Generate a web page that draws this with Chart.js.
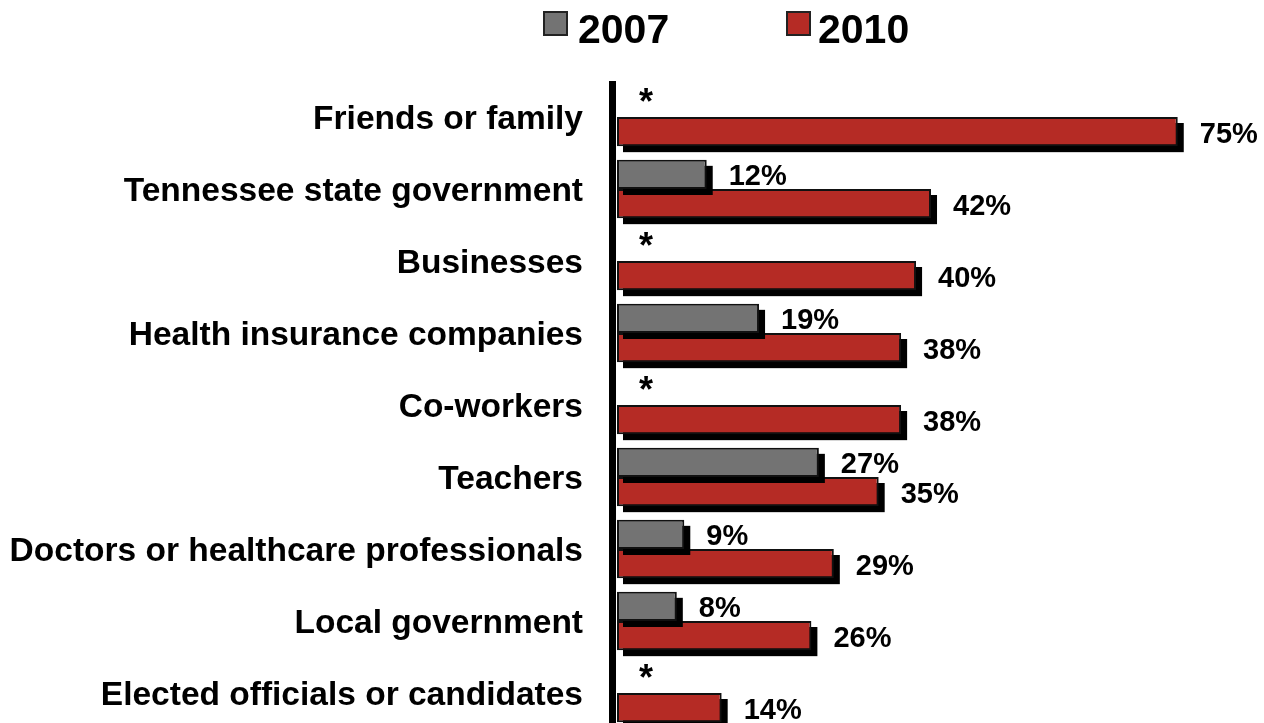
<!DOCTYPE html>
<html>
<head>
<meta charset="utf-8">
<script src="https://cdn.jsdelivr.net/npm/chart.js@4/dist/chart.umd.min.js"></script>
<style>
html,body{margin:0;padding:0;background:#fff;overflow:hidden;}
canvas{display:block;}
</style>
</head>
<body>
<canvas id="c" width="1264" height="740" style="width:1264px;height:740px"></canvas>
<script>
const categories = [
  "Friends or family",
  "Tennessee state government",
  "Businesses",
  "Health insurance companies",
  "Co-workers",
  "Teachers",
  "Doctors or healthcare professionals",
  "Local government",
  "Elected officials or candidates"
];
const seriesNames = ["2007", "2010"];
const values2007 = [null, 12, null, 19, null, 27, 9, 8, null];
const values2010 = [75, 42, 40, 38, 38, 35, 29, 26, 14];
const seriesColors = ["#737373", "#B52B25"];
const missingMark = "*";

const FONT = "'Liberation Sans', Arial, sans-serif";

const shadowPlugin = {
  id: 'barShadow',
  beforeDatasetDraw(chart, args) {
    const ctx = chart.ctx;
    const meta = args.meta;
    ctx.save();
    ctx.fillStyle = '#000';
    meta.data.forEach((el) => {
      const p = el.getProps(['x', 'y', 'base', 'height'], true);
      if (!isFinite(p.x) || !isFinite(p.base)) return;
      const left = Math.min(p.x, p.base);
      const w = Math.abs(p.x - p.base);
      if (w <= 0) return;
      ctx.fillRect(left + 6, p.y - p.height / 2 + 6, w, p.height);
    });
    ctx.restore();
  }
};

const labelPlugin = {
  id: 'labels',
  afterDatasetsDraw(chart) {
    const ctx = chart.ctx;
    const xs = chart.scales.x;
    const x0 = xs.getPixelForValue(0);
    ctx.save();
    ctx.fillStyle = '#000';
    ctx.fillRect(x0 - 8, chart.chartArea.top, 7, chart.chartArea.bottom - chart.chartArea.top + 20);
    chart.data.datasets.forEach((ds, di) => {
      const meta = chart.getDatasetMeta(di);
      meta.data.forEach((el, i) => {
        const v = ds.data[i];
        if (v === null || v === undefined) {
          const ref = chart.getDatasetMeta(1).data[i];
          const y = ref.y - ref.height;
          ctx.font = "bold 36px " + FONT;
          ctx.fillStyle = '#000';
          ctx.textAlign = 'left';
          ctx.textBaseline = 'alphabetic';
          ctx.fillText(missingMark, x0 + 22, y + 12);
        } else {
          ctx.font = "bold 29px " + FONT;
          ctx.fillStyle = '#000';
          ctx.textAlign = 'left';
          ctx.textBaseline = 'middle';
          ctx.fillText(v + '%', el.x + 22, el.y + 3);
        }
      });
    });
    const items = [
      {box: 544, text: 578},
      {box: 787, text: 818}
    ];
    items.forEach((it, k) => {
      ctx.fillStyle = seriesColors[k];
      ctx.fillRect(it.box, 12, 23, 23);
      ctx.strokeStyle = '#222';
      ctx.lineWidth = 2;
      ctx.strokeRect(it.box, 12, 23, 23);
      ctx.fillStyle = '#000';
      ctx.font = "bold 41px " + FONT;
      ctx.textAlign = 'left';
      ctx.textBaseline = 'alphabetic';
      ctx.fillText(seriesNames[k], it.text, 43);
    });
    ctx.restore();
  }
};

new Chart(document.getElementById('c'), {
  type: 'bar',
  data: {
    labels: categories,
    datasets: [
      {label: seriesNames[0], data: values2007, backgroundColor: seriesColors[0], borderColor: '#111', borderWidth: 2, borderSkipped: false},
      {label: seriesNames[1], data: values2010, backgroundColor: seriesColors[1], borderColor: '#111', borderWidth: 2, borderSkipped: false}
    ]
  },
  options: {
    indexAxis: 'y',
    responsive: false,
    maintainAspectRatio: false,
    animation: false,
    datasets: {bar: {categoryPercentage: 0.81, barPercentage: 1.0}},
    layout: {padding: {top: 81, right: 4, bottom: 11, left: 0}},
    plugins: {legend: {display: false}, tooltip: {enabled: false}},
    scales: {
      x: {display: false, min: 0, max: 86},
      y: {
        grid: {display: false, drawTicks: false},
        border: {display: false},
        ticks: {color: '#000', padding: 34, labelOffset: 3, font: {family: FONT, size: 33.5, weight: 'bold'}},
        afterFit(scale) { scale.width = 617; scale.paddingTop = 0; scale.paddingBottom = 0; }
      }
    }
  },
  plugins: [shadowPlugin, labelPlugin]
});
</script>
</body>
</html>
